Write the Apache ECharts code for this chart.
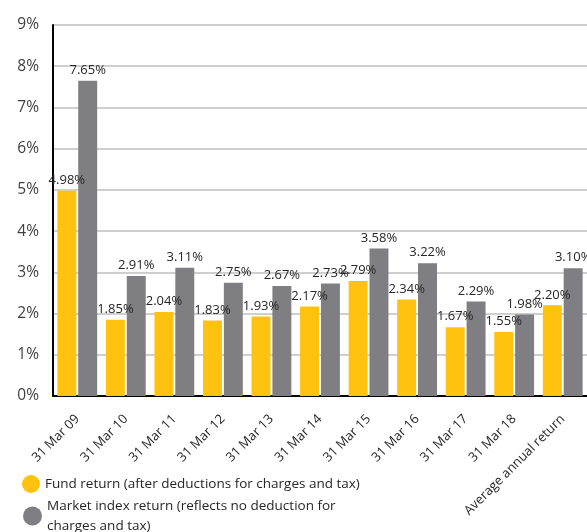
<!DOCTYPE html>
<html><head><meta charset="utf-8">
<script src="https://cdn.jsdelivr.net/npm/echarts@6/dist/echarts.min.js"></script>
<style>html,body{margin:0;padding:0;background:#fff}#c{width:587px;height:532px}</style>
</head><body><div id="c"></div>
<script>
var categories = ['31 Mar 09','31 Mar 10','31 Mar 11','31 Mar 12','31 Mar 13','31 Mar 14','31 Mar 15','31 Mar 16','31 Mar 17','31 Mar 18','Average annual return'];
var fundReturn = [4.98,1.85,2.04,1.83,1.93,2.17,2.79,2.34,1.67,1.55,2.20];
var marketReturn = [7.65,2.91,3.11,2.75,2.67,2.73,3.58,3.22,2.29,1.98,3.10];
var seriesNames = ['Fund return (after deductions for charges and tax)','Market index return (reflects no deduction for\ncharges and tax)'];
var yTicks = {min:0,max:9,interval:1};
var FONT = 'Open Sans';
var chart = echarts.init(document.getElementById('c'));
function lbl(){return {show:true,position:'top',distance:4,formatter:function(p){return p.value.toFixed(2)+'%';},color:'#262626',fontFamily:FONT,fontSize:13};}
var legText = {fontFamily:FONT,fontSize:13.5,color:'#262626',lineHeight:20};
chart.setOption({
  animation:false,
  textStyle:{fontFamily:FONT},
  grid:{left:53,right:0,top:25,bottom:136,containLabel:false},
  legend:[
    {orient:'vertical',left:17,top:469,itemWidth:18,itemHeight:18,icon:'circle',textStyle:legText,data:[seriesNames[0]]},
    {orient:'vertical',left:18,top:491,itemWidth:19,itemHeight:19,icon:'circle',textStyle:legText,data:[seriesNames[1]]}
  ],
  xAxis:{type:'category',data:categories,
    axisLine:{lineStyle:{color:'#000',width:2}},axisTick:{show:false},
    axisLabel:{rotate:45,interval:0,color:'#262626',fontFamily:FONT,fontSize:13,margin:21}},
  yAxis:{type:'value',min:yTicks.min,max:yTicks.max,interval:yTicks.interval,
    axisLine:{show:true,lineStyle:{color:'#000',width:2}},axisTick:{show:false},
    axisLabel:{formatter:'{value}%',color:'#404040',fontFamily:FONT,fontSize:15.5,margin:14},
    splitLine:{lineStyle:{color:'#bfbfbf',width:1.5}}},
  series:[
    {name:seriesNames[0],type:'bar',data:fundReturn,itemStyle:{color:'#FFC20E'},barGap:'10%',barCategoryGap:'18%',label:lbl()},
    {name:seriesNames[1],type:'bar',data:marketReturn,itemStyle:{color:'#7F7E83'},label:lbl()}
  ]
});
</script></body></html>
